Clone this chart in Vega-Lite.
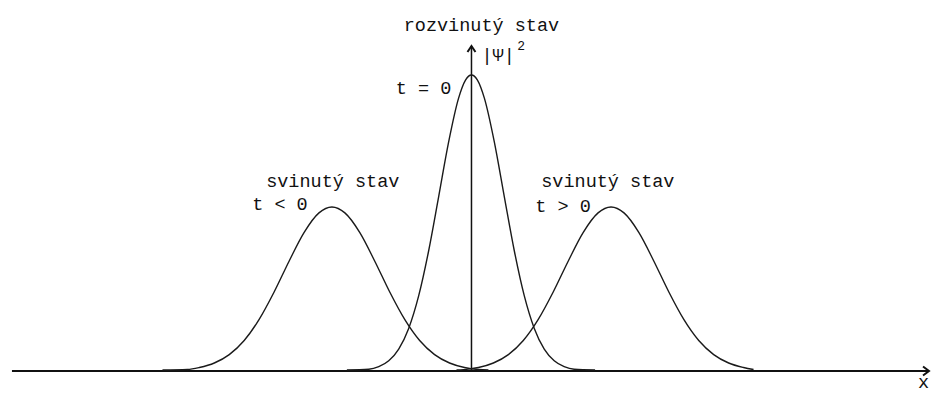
{
  "$schema": "https://vega.github.io/schema/vega-lite/v6.json",
  "width": 933,
  "height": 394,
  "autosize": {"type": "fit", "contains": "padding"},
  "padding": 0,
  "background": "white",
  "config": {"view": {"stroke": null}},
  "datasets": {
    "curves": [
      {"curve": "L", "x": 163, "y": 1}, {"curve": "L", "x": 188, "y": 1.5}, {"curve": "L", "x": 200, "y": 3.5},
      {"curve": "L", "x": 215, "y": 8}, {"curve": "L", "x": 230, "y": 16.4}, {"curve": "L", "x": 245, "y": 30.5},
      {"curve": "L", "x": 260, "y": 51.6}, {"curve": "L", "x": 275, "y": 79}, {"curve": "L", "x": 290, "y": 109.8},
      {"curve": "L", "x": 305, "y": 138.4}, {"curve": "L", "x": 320, "y": 158.1}, {"curve": "L", "x": 333, "y": 164},
      {"curve": "L", "x": 346, "y": 158.1}, {"curve": "L", "x": 361, "y": 138.4}, {"curve": "L", "x": 376, "y": 109.8},
      {"curve": "L", "x": 391, "y": 79}, {"curve": "L", "x": 406, "y": 51.6}, {"curve": "L", "x": 421, "y": 30.5},
      {"curve": "L", "x": 436, "y": 16.4}, {"curve": "L", "x": 451, "y": 8}, {"curve": "L", "x": 466, "y": 3.5},
      {"curve": "L", "x": 480, "y": 1.5}, {"curve": "L", "x": 490, "y": 1},
      {"curve": "C", "x": 348, "y": 1}, {"curve": "C", "x": 370, "y": 1.7}, {"curve": "C", "x": 380, "y": 4.3},
      {"curve": "C", "x": 390, "y": 10.2}, {"curve": "C", "x": 400, "y": 21.9}, {"curve": "C", "x": 410, "y": 42.6},
      {"curve": "C", "x": 420, "y": 75.1}, {"curve": "C", "x": 430, "y": 120}, {"curve": "C", "x": 440, "y": 173.9},
      {"curve": "C", "x": 450, "y": 228.6}, {"curve": "C", "x": 460, "y": 272.6}, {"curve": "C", "x": 467, "y": 290.9},
      {"curve": "C", "x": 473, "y": 296}, {"curve": "C", "x": 479, "y": 290.9}, {"curve": "C", "x": 486, "y": 272.6},
      {"curve": "C", "x": 496, "y": 228.6}, {"curve": "C", "x": 506, "y": 173.9}, {"curve": "C", "x": 516, "y": 120},
      {"curve": "C", "x": 526, "y": 75.1}, {"curve": "C", "x": 536, "y": 42.6}, {"curve": "C", "x": 546, "y": 21.9},
      {"curve": "C", "x": 556, "y": 10.2}, {"curve": "C", "x": 566, "y": 4.3}, {"curve": "C", "x": 576, "y": 1.7},
      {"curve": "C", "x": 597, "y": 1},
      {"curve": "R", "x": 458, "y": 1}, {"curve": "R", "x": 470, "y": 1.9}, {"curve": "R", "x": 480, "y": 3.5},
      {"curve": "R", "x": 495, "y": 8}, {"curve": "R", "x": 510, "y": 16.4}, {"curve": "R", "x": 525, "y": 30.5},
      {"curve": "R", "x": 540, "y": 51.6}, {"curve": "R", "x": 555, "y": 79}, {"curve": "R", "x": 570, "y": 109.8},
      {"curve": "R", "x": 585, "y": 138.4}, {"curve": "R", "x": 600, "y": 158.1}, {"curve": "R", "x": 613, "y": 164},
      {"curve": "R", "x": 626, "y": 158.1}, {"curve": "R", "x": 641, "y": 138.4}, {"curve": "R", "x": 656, "y": 109.8},
      {"curve": "R", "x": 671, "y": 79}, {"curve": "R", "x": 686, "y": 51.6}, {"curve": "R", "x": 701, "y": 30.5},
      {"curve": "R", "x": 716, "y": 16.4}, {"curve": "R", "x": 731, "y": 8}, {"curve": "R", "x": 746, "y": 3.5},
      {"curve": "R", "x": 756, "y": 1.5}
    ],
    "axes": [
      {"axis": "x", "x": 12, "x2": 931, "y": 0, "y2": 0},
      {"axis": "y", "x": 473, "x2": 473, "y": 0, "y2": 325}
    ],
    "arrows": [
      {"arrow": "x", "o": 0, "x": 926, "y": 4.5}, {"arrow": "x", "o": 1, "x": 932, "y": 0}, {"arrow": "x", "o": 2, "x": 926, "y": -4.5},
      {"arrow": "y", "o": 0, "x": 469, "y": 319}, {"arrow": "y", "o": 1, "x": 473, "y": 325}, {"arrow": "y", "o": 2, "x": 477, "y": 319}
    ],
    "labels": [
      {"t": "rozvinutý stav", "x": 405, "y": 340},
      {"t": "|Ψ|", "x": 483, "y": 310},
      {"t": "t = 0", "x": 397, "y": 277},
      {"t": "svinutý stav", "x": 267, "y": 184},
      {"t": "t < 0", "x": 253, "y": 161},
      {"t": "svinutý stav", "x": 543, "y": 184},
      {"t": "t > 0", "x": 537, "y": 159},
      {"t": "x", "x": 921, "y": -17}
    ],
    "sup": [
      {"t": "2", "x": 519, "y": 321}
    ]
  },
  "layer": [
    {
      "data": {"name": "axes"},
      "transform": [{"filter": "datum.axis === 'x'"}],
      "mark": {"type": "rule", "color": "#111", "strokeWidth": 2},
      "encoding": {
        "x": {"field": "x", "type": "quantitative", "scale": {"domain": [0, 933], "nice": false, "zero": false}, "axis": null},
        "x2": {"field": "x2"},
        "y": {"field": "y", "type": "quantitative", "scale": {"domain": [-23, 371], "nice": false, "zero": false}, "axis": null},
        "y2": {"field": "y2"}
      }
    },
    {
      "data": {"name": "axes"},
      "transform": [{"filter": "datum.axis === 'y'"}],
      "mark": {"type": "rule", "color": "#111", "strokeWidth": 1.5},
      "encoding": {
        "x": {"field": "x", "type": "quantitative", "scale": {"domain": [0, 933], "nice": false, "zero": false}, "axis": null},
        "x2": {"field": "x2"},
        "y": {"field": "y", "type": "quantitative", "scale": {"domain": [-23, 371], "nice": false, "zero": false}, "axis": null},
        "y2": {"field": "y2"}
      }
    },
    {
      "data": {"name": "arrows"},
      "mark": {"type": "line", "color": "#111", "strokeWidth": 2},
      "encoding": {
        "x": {"field": "x", "type": "quantitative", "scale": {"domain": [0, 933], "nice": false, "zero": false}, "axis": null},
        "y": {"field": "y", "type": "quantitative", "scale": {"domain": [-23, 371], "nice": false, "zero": false}, "axis": null},
        "detail": {"field": "arrow", "type": "nominal"},
        "order": {"field": "o", "type": "quantitative"}
      }
    },
    {
      "data": {"name": "curves"},
      "mark": {"type": "line", "color": "#1a1a1a", "strokeWidth": 1.4, "interpolate": "monotone"},
      "encoding": {
        "x": {"field": "x", "type": "quantitative", "scale": {"domain": [0, 933], "nice": false, "zero": false}, "axis": null},
        "y": {"field": "y", "type": "quantitative", "scale": {"domain": [-23, 371], "nice": false, "zero": false}, "axis": null},
        "detail": {"field": "curve", "type": "nominal"}
      }
    },
    {
      "data": {"name": "labels"},
      "mark": {"type": "text", "align": "left", "baseline": "alphabetic", "font": "Liberation Mono", "fontSize": 18.5, "color": "#111"},
      "encoding": {
        "x": {"field": "x", "type": "quantitative", "scale": {"domain": [0, 933], "nice": false, "zero": false}, "axis": null},
        "y": {"field": "y", "type": "quantitative", "scale": {"domain": [-23, 371], "nice": false, "zero": false}, "axis": null},
        "text": {"field": "t", "type": "nominal"}
      }
    },
    {
      "data": {"name": "sup"},
      "mark": {"type": "text", "align": "left", "baseline": "alphabetic", "font": "Liberation Mono", "fontSize": 13, "color": "#111"},
      "encoding": {
        "x": {"field": "x", "type": "quantitative", "scale": {"domain": [0, 933], "nice": false, "zero": false}, "axis": null},
        "y": {"field": "y", "type": "quantitative", "scale": {"domain": [-23, 371], "nice": false, "zero": false}, "axis": null},
        "text": {"field": "t", "type": "nominal"}
      }
    }
  ]
}
